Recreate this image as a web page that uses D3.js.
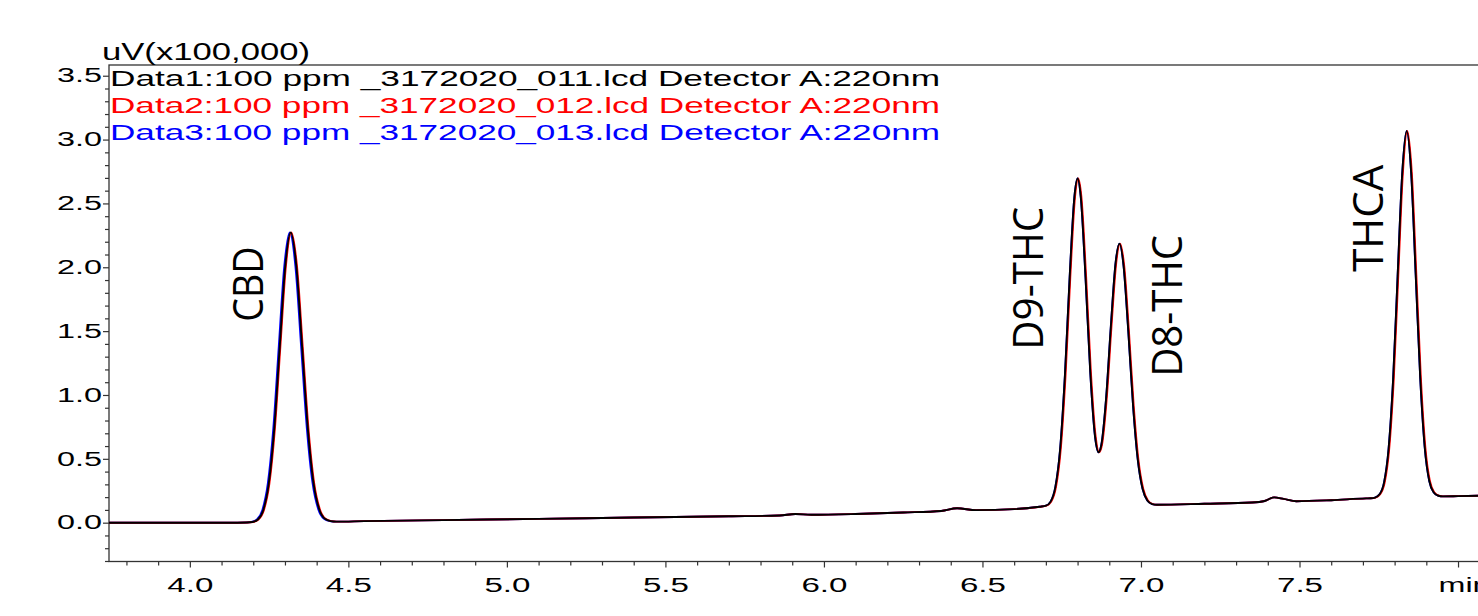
<!DOCTYPE html>
<html>
<head>
<meta charset="utf-8">
<script src="https://cdn.jsdelivr.net/npm/d3@7"></script>
<style>
  html, body { margin: 0; padding: 0; background: #fff; overflow: hidden; }
</style>
</head>
<body>
<svg id="chart"></svg>
<script>
// retention time (min) for each injection
const minutes1 = [3.70, 3.90, 4.05, 4.15, 4.180, 4.197, 4.2145, 4.2318, 4.249, 4.2663, 4.2835, 4.3008, 4.318, 4.336, 4.354, 4.372, 4.390, 4.408, 4.426, 4.444, 4.462,
  4.55, 4.80, 5.10, 5.40, 5.70, 5.86, 5.91, 5.96, 6.10, 6.25, 6.37, 6.42, 6.48, 6.60,
  6.680, 6.700, 6.715, 6.730, 6.745, 6.760, 6.775, 6.790, 6.800, 6.810, 6.825, 6.840, 6.855, 6.866, 6.875, 6.890, 6.905, 6.920, 6.932, 6.945, 6.960, 6.975, 6.990, 7.005, 7.020, 7.035, 7.050,
  7.20, 7.35, 7.39, 7.42, 7.45, 7.49, 7.60,
  7.710, 7.724, 7.738, 7.7525, 7.7668, 7.781, 7.7953, 7.8095, 7.8238, 7.838, 7.8523, 7.8665, 7.8808, 7.895, 7.9093, 7.9235, 7.9378, 7.952, 8.00, 8.15];

const minutes2 = [3.70, 3.90, 4.05, 4.15, 4.182, 4.199, 4.2165, 4.2338, 4.251, 4.2683, 4.2855, 4.3028, 4.320, 4.338, 4.356, 4.374, 4.392, 4.410, 4.428, 4.446, 4.464,
  4.55, 4.80, 5.10, 5.40, 5.70, 5.86, 5.91, 5.96, 6.10, 6.25, 6.37, 6.42, 6.48, 6.60,
  6.682, 6.702, 6.717, 6.732, 6.747, 6.762, 6.777, 6.792, 6.802, 6.812, 6.827, 6.842, 6.857, 6.868, 6.877, 6.892, 6.907, 6.922, 6.934, 6.947, 6.962, 6.977, 6.992, 7.007, 7.022, 7.037, 7.052,
  7.20, 7.35, 7.39, 7.42, 7.45, 7.49, 7.60,
  7.712, 7.726, 7.740, 7.7545, 7.7688, 7.783, 7.7973, 7.8115, 7.8258, 7.840, 7.8543, 7.8685, 7.8828, 7.897, 7.9113, 7.9255, 7.9398, 7.954, 8.00, 8.15];

const minutes3 = [3.70, 3.90, 4.05, 4.15, 4.177, 4.194, 4.2115, 4.2288, 4.246, 4.2633, 4.2805, 4.2978, 4.315, 4.333, 4.351, 4.369, 4.387, 4.405, 4.423, 4.441, 4.459,
  4.55, 4.80, 5.10, 5.40, 5.70, 5.86, 5.91, 5.96, 6.10, 6.25, 6.37, 6.42, 6.48, 6.60,
  6.680, 6.700, 6.715, 6.730, 6.745, 6.760, 6.775, 6.790, 6.800, 6.810, 6.825, 6.840, 6.855, 6.866, 6.875, 6.890, 6.905, 6.920, 6.932, 6.945, 6.960, 6.975, 6.990, 7.005, 7.020, 7.035, 7.050,
  7.20, 7.35, 7.39, 7.42, 7.45, 7.49, 7.60,
  7.710, 7.724, 7.738, 7.7525, 7.7668, 7.781, 7.7953, 7.8095, 7.8238, 7.838, 7.8523, 7.8665, 7.8808, 7.895, 7.9093, 7.9235, 7.9378, 7.952, 8.00, 8.15];

// detector signal, uV x100,000 (the three replicates overlay)
const signal = [0.000, 0.000, 0.000, 0.000, 0.001, 0.005, 0.025, 0.100, 0.307, 0.738, 1.378, 2.005, 2.272, 2.007, 1.380, 0.741, 0.311, 0.105, 0.030, 0.012, 0.008,
  0.012, 0.020, 0.030, 0.040, 0.050, 0.056, 0.068, 0.062, 0.068, 0.080, 0.092, 0.113, 0.098, 0.106,
  0.125, 0.133, 0.165, 0.280, 0.577, 1.150, 1.920, 2.552, 2.695, 2.553, 1.925, 1.180, 0.676, 0.552, 0.610, 0.974, 1.538, 2.037, 2.185, 2.013, 1.499, 0.918, 0.491, 0.265, 0.174, 0.146, 0.140,
  0.148, 0.158, 0.170, 0.198, 0.186, 0.168, 0.176,
  0.190, 0.191, 0.196, 0.222, 0.316, 0.579, 1.123, 1.932, 2.727, 3.067, 2.735, 1.942, 1.133, 0.589, 0.326, 0.237, 0.211, 0.206, 0.208, 0.215];

const seriesNames = ["Data1:100 ppm _3172020_011.lcd Detector A:220nm",
                     "Data2:100 ppm _3172020_012.lcd Detector A:220nm",
                     "Data3:100 ppm _3172020_013.lcd Detector A:220nm"];
const seriesColors = ["#000000", "#ff0000", "#0000ff"];

const xTicks = [4.0, 4.5, 5.0, 5.5, 6.0, 6.5, 7.0, 7.5, 8.0];
const xTickLabels = ["4.0", "4.5", "5.0", "5.5", "6.0", "6.5", "7.0", "7.5", "min"];
const yTicks = [0.0, 0.5, 1.0, 1.5, 2.0, 2.5, 3.0, 3.5];
const yTickLabels = ["0.0", "0.5", "1.0", "1.5", "2.0", "2.5", "3.0", "3.5"];

const peakNames = ["CBD", "D9-THC", "D8-THC", "THCA"];
const peakLabelMinutes = [4.232, 6.692, 7.128, 7.763];
const peakLabelSignal = [1.868, 1.914, 1.698, 2.384];

const config = {
  width: 1478, height: 616,
  margin: {top: 65, left: 109},
  plotWidth: 1369, plotHeight: 496.5
};

const svg = d3.select("#chart")
  .attr("width", config.width)
  .attr("height", config.height)
  .style("display", "block");

const chart = svg.append("g")
  .attr("transform", `translate(${config.margin.left},${config.margin.top})`);

const xScale = d3.scaleLinear().domain([3.745, 8.063]).range([0, config.plotWidth]);
const yScale = d3.scaleLinear().domain([-0.304, 3.584]).range([config.plotHeight, 0]);

const font = "'Liberation Sans', Arial, sans-serif";
const axisColor = "#333";

// minor ticks every 0.1
const xMinor = d3.range(38, 82).map(d => d / 10).filter(d => !xTicks.includes(d));
const yMinor = d3.range(-3, 36).map(d => d / 10).filter(d => !yTicks.includes(d));

chart.append("g")
  .attr("transform", `translate(0,${config.plotHeight})`)
  .call(d3.axisBottom(xScale).tickValues(xMinor).tickSize(4).tickFormat(""))
  .call(g => g.select(".domain").remove())
  .call(g => g.selectAll("line").attr("stroke", axisColor).attr("stroke-width", 1.2));

const xAxisG = chart.append("g")
  .attr("transform", `translate(0,${config.plotHeight})`)
  .call(d3.axisBottom(xScale).tickValues(xTicks).tickSize(6).tickPadding(11)
    .tickFormat((d, i) => xTickLabels[i]))
  .call(g => g.select(".domain").remove())
  .call(g => g.selectAll("line").attr("stroke", axisColor).attr("stroke-width", 1.2));

xAxisG.selectAll("text")
  .attr("fill", "#000")
  .style("font-family", font)
  .style("font-size", "19.5px")
  .attr("textLength", 46)
  .attr("lengthAdjust", "spacingAndGlyphs");

// the last label reads "min" and starts at the tick
xAxisG.selectAll("text").filter((d, i) => i === xTicks.length - 1)
  .attr("text-anchor", "start")
  .attr("x", -20)
  .attr("textLength", 52);

chart.append("g")
  .call(d3.axisLeft(yScale).tickValues(yMinor).tickSize(4).tickFormat(""))
  .call(g => g.select(".domain").remove())
  .call(g => g.selectAll("line").attr("stroke", axisColor).attr("stroke-width", 1.2));

chart.append("g")
  .call(d3.axisLeft(yScale).tickValues(yTicks).tickSize(6).tickPadding(1)
    .tickFormat((d, i) => yTickLabels[i]))
  .call(g => g.select(".domain").remove())
  .call(g => g.selectAll("line").attr("stroke", axisColor).attr("stroke-width", 1.2))
  .call(g => g.selectAll("text")
    .attr("fill", "#000")
    .style("font-family", font)
    .style("font-size", "19.5px")
    .attr("textLength", 45)
    .attr("lengthAdjust", "spacingAndGlyphs"));

// frame (right side runs off the page like the original)
chart.append("rect")
  .attr("x", 0).attr("y", 0)
  .attr("width", config.plotWidth + 40)
  .attr("height", config.plotHeight)
  .attr("fill", "none")
  .attr("stroke", axisColor)
  .attr("stroke-width", 1.3);

chart.append("clipPath").attr("id", "plot-clip")
  .append("rect")
  .attr("width", config.plotWidth + 40)
  .attr("height", config.plotHeight);

const line = d3.line()
  .x(d => xScale(d[0]))
  .y(d => yScale(d[1]))
  .curve(d3.curveMonotoneX);

const traces = [
  {times: minutes3, color: seriesColors[2]},
  {times: minutes2, color: seriesColors[1]},
  {times: minutes1, color: seriesColors[0]}
];

chart.append("g")
  .attr("clip-path", "url(#plot-clip)")
  .selectAll("path")
  .data(traces)
  .join("path")
    .attr("d", t => line(t.times.map((m, i) => [m, signal[i]])))
    .attr("fill", "none")
    .attr("stroke", t => t.color)
    .attr("stroke-width", 1.9)
    .attr("stroke-linejoin", "round");

// peak names, rotated
chart.selectAll(".peak-label")
  .data(peakNames)
  .join("text")
    .attr("class", "peak-label")
    .attr("transform", (d, i) => `translate(${xScale(peakLabelMinutes[i])},${yScale(peakLabelSignal[i])}) rotate(-90)`)
    .attr("text-anchor", "middle")
    .style("font-family", "'Open Sans', sans-serif")
    .style("font-size", "42px")
    .attr("fill", "#000")
    .attr("textLength", (d, i) => [75, 143, 142, 107][i])
    .attr("lengthAdjust", "spacingAndGlyphs")
    .text(d => d);

// unit label above the frame
svg.append("text")
  .attr("x", 102)
  .attr("y", 60)
  .style("font-family", font)
  .style("font-size", "23px")
  .attr("fill", "#000")
  .attr("textLength", 208)
  .attr("lengthAdjust", "spacingAndGlyphs")
  .text("uV(x100,000)");

// legend lines
svg.selectAll(".legend")
  .data(seriesNames)
  .join("text")
    .attr("class", "legend")
    .attr("x", 110)
    .attr("y", (d, i) => 86 + i * 27)
    .style("font-family", font)
    .style("font-size", "22.5px")
    .attr("fill", (d, i) => seriesColors[i])
    .attr("textLength", 830)
    .attr("lengthAdjust", "spacingAndGlyphs")
    .text(d => d);
</script>
</body>
</html>
